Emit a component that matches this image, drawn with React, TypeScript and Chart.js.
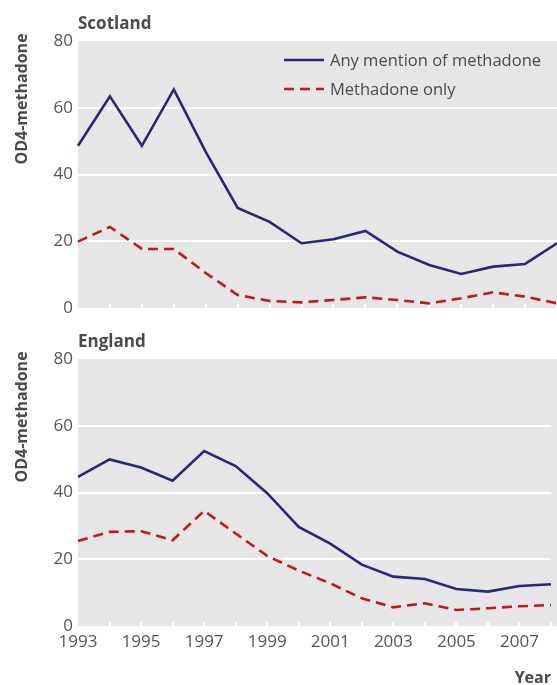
import React, { useEffect, useRef } from "react";
import { Chart, registerables } from "chart.js";

Chart.register(...registerables);

// ---- data ----
const years = ["1993","1994","1995","1996","1997","1998","1999","2000","2001","2002","2003","2004","2005","2006","2007","2008"];
const xTickLabels = ["1993","1995","1997","1999","2001","2003","2005","2007"];
const seriesNames = ["Any mention of methadone", "Methadone only"];
const yMin = 0;
const yMax = 80;
const yStep = 20;

const scotlandAny = [48.6, 63.4, 48.6, 65.5, 46.8, 30.0, 25.8, 19.4, 20.6, 23.1, 16.9, 12.9, 10.2, 12.4, 13.2, 19.4];
const scotlandOnly = [19.9, 24.3, 17.7, 17.7, 10.5, 3.9, 2.1, 1.7, 2.4, 3.2, 2.4, 1.4, 2.9, 4.7, 3.4, 1.4];
const englandAny = [44.7, 49.9, 47.5, 43.5, 52.4, 47.9, 39.8, 29.7, 24.7, 18.4, 14.8, 14.1, 11.1, 10.3, 12.0, 12.5];
const englandOnly = [25.5, 28.2, 28.4, 25.7, 34.5, 27.7, 21.0, 16.6, 12.8, 8.3, 5.6, 6.8, 4.8, 5.3, 5.9, 6.3];

// ---- styles ----
const FONT = "'Open Sans', 'DejaVu Sans', sans-serif";
const TEXT = "#555555";
const DARK = "#4a4a4a";
const BLUE = "#27287a";
const RED = "#c3161d";
const BG = "#e6e6e6";

const decorPlugin = {
  id: "decor",
  beforeDraw(chart: any, _args: any, opts: any) {
    const { ctx, chartArea: a } = chart;
    ctx.save();
    ctx.fillStyle = BG;
    ctx.fillRect(a.left, a.top, chart.width - a.left, a.bottom - a.top);
    ctx.restore();
  },
  beforeDatasetsDraw(chart: any, _args: any, opts: any) {
    const { ctx, chartArea: a } = chart;
    const xs = chart.scales.x;
    ctx.save();
    ctx.strokeStyle = "#ffffff";
    ctx.lineWidth = 2;
    xs.ticks.forEach((_t: any, i: number) => {
      if (i === 0) return;
      const px = Math.round(xs.getPixelForTick(i));
      ctx.beginPath();
      ctx.moveTo(px, a.bottom);
      ctx.lineTo(px, a.bottom - 4);
      ctx.stroke();
    });
    // y-axis title
    ctx.translate(22, a.top + 58);
    ctx.rotate(-Math.PI / 2);
    ctx.fillStyle = DARK;
    ctx.font = `bold 16px ${FONT}`;
    ctx.textAlign = "center";
    ctx.textBaseline = "middle";
    ctx.fillText(opts.yTitle, 0, 0);
    ctx.restore();
  },
  afterDatasetsDraw(chart: any, _args: any, opts: any) {
    if (!opts.legend) return;
    const { ctx, chartArea: a } = chart;
    ctx.save();
    chart.data.datasets.forEach((ds: any, i: number) => {
      const y = a.top + 19 + i * 29;
      const x0 = a.left + 206;
      ctx.strokeStyle = ds.borderColor;
      ctx.lineWidth = ds.borderWidth;
      ctx.setLineDash(ds.borderDash || []);
      ctx.beginPath();
      ctx.moveTo(x0, y);
      ctx.lineTo(x0 + 40, y);
      ctx.stroke();
      ctx.setLineDash([]);
      ctx.fillStyle = DARK;
      ctx.font = `16.5px ${FONT}`;
      ctx.textAlign = "left";
      ctx.textBaseline = "middle";
      ctx.fillText(ds.label, x0 + 46, y + 1);
    });
    ctx.restore();
  },
};

type PanelProps = {
  top: number;
  height: number;
  title: string;
  any: number[];
  only: number[];
  showX: boolean;
  legend: boolean;
  titlePadTop: number;
  xHeight: number;
};

function Panel(p: PanelProps) {
  const ref = useRef<HTMLCanvasElement | null>(null);
  useEffect(() => {
    if (!ref.current) return;
    const chart = new Chart(ref.current, {
      type: "line",
      data: {
        labels: years,
        datasets: [
          {
            label: seriesNames[0],
            data: p.any,
            borderColor: BLUE,
            borderWidth: 2.6,
            pointRadius: 0,
            tension: 0,
            fill: false,
          },
          {
            label: seriesNames[1],
            data: p.only,
            borderColor: RED,
            borderWidth: 2.6,
            borderDash: [10, 6],
            pointRadius: 0,
            tension: 0,
            fill: false,
          },
        ],
      },
      options: {
        animation: false,
        responsive: false,
        maintainAspectRatio: false,
        layout: { padding: { left: 0, right: 0, top: 0, bottom: 0 } },
        plugins: {
          legend: { display: false },
          tooltip: { enabled: false },
          title: {
            display: true,
            text: p.title,
            align: "start",
            fullSize: false,
            color: DARK,
            font: { family: FONT, size: 17, weight: "bold", lineHeight: 1.2 },
            padding: { top: p.titlePadTop, bottom: 6.6 },
          },
          decor: { yTitle: "OD4-methadone", legend: p.legend },
        } as any,
        scales: {
          x: {
            type: "category",
            offset: false,
            grid: { display: false, drawTicks: false },
            border: { display: false },
            ticks: {
              display: p.showX,
              autoSkip: false,
              maxRotation: 0,
              padding: 6,
              color: TEXT,
              font: { family: FONT, size: 17 },
              callback: (_v: any, i: number) => (xTickLabels.includes(years[i]) ? years[i] : ""),
            },
            title: {
              display: p.showX,
              text: "Year",
              align: "end",
              color: DARK,
              font: { family: FONT, size: 16, weight: "bold", lineHeight: 0.8 },
              padding: { top: 0, bottom: 0 },
            },
            afterFit: (s: any) => {
              s.height = p.xHeight;
            },
          },
          y: {
            min: yMin,
            max: yMax,
            grid: {
              drawTicks: false,
              lineWidth: 2,
              color: (c: any) =>
                c.tick && c.tick.value > yMin && c.tick.value < yMax ? "#ffffff" : "rgba(0,0,0,0)",
            },
            border: { display: false },
            ticks: {
              stepSize: yStep,
              padding: 5,
              color: TEXT,
              font: { family: FONT, size: 17 },
            },
            afterFit: (s: any) => {
              s.width = 78;
            },
          },
        },
      },
      plugins: [decorPlugin as any],
    });
    return () => chart.destroy();
  }, []);
  return (
    <canvas
      ref={ref}
      width={557}
      height={p.height}
      style={{ position: "absolute", left: 0, top: p.top, width: 557, height: p.height, display: "block" }}
    />
  );
}

export default function App() {
  return (
    <div style={{ position: "absolute", left: 0, top: 0, width: 557, height: 685, background: "#fff", overflow: "hidden" }}>
      <Panel top={0} height={325} title="Scotland" any={scotlandAny} only={scotlandOnly} showX={false} legend={true} titlePadTop={14} xHeight={17} />
      <Panel top={325} height={360} title="England" any={englandAny} only={englandOnly} showX={true} legend={false} titlePadTop={7} xHeight={59} />
    </div>
  );
}
